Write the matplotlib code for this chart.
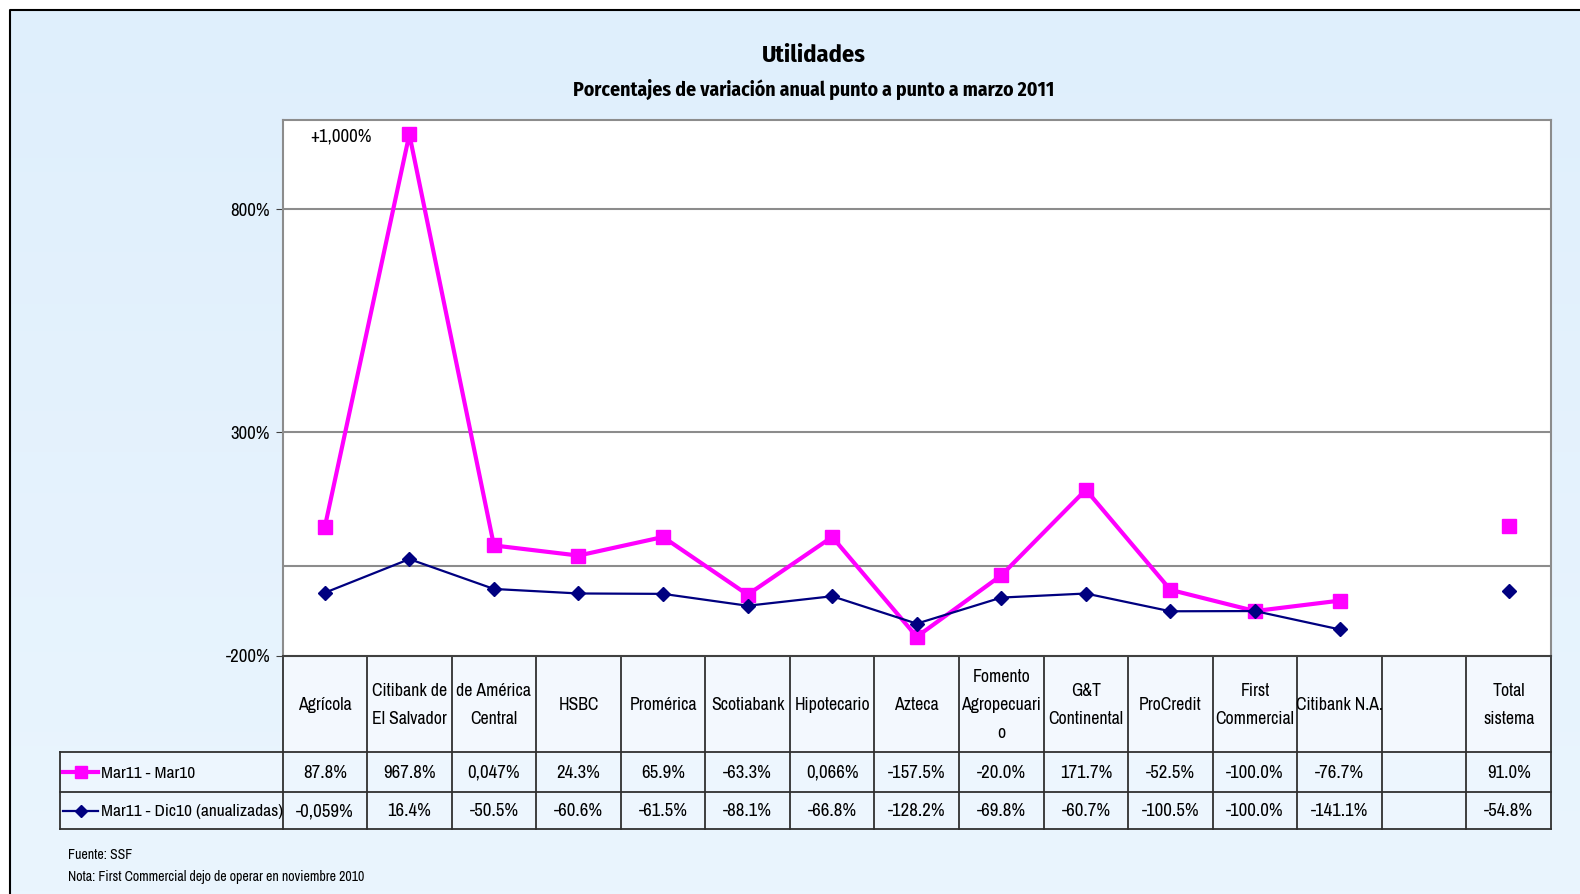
import numpy as np
import matplotlib.pyplot as plt
from matplotlib.colors import LinearSegmentedColormap
from matplotlib.lines import Line2D
from matplotlib.patches import Rectangle

plt.rcParams['font.family'] = ['Archivo Narrow', 'Roboto Condensed', 'DejaVu Sans']
BOLD_FAMILY = ['Fira Sans Condensed', 'Barlow Condensed', 'DejaVu Sans']

# data
bancos = ['Agrícola', 'Citibank de\nEl Salvador', 'de América\nCentral', 'HSBC', 'Promérica',
          'Scotiabank', 'Hipotecario', 'Azteca', 'Fomento\nAgropecuari\no', 'G&T\nContinental',
          'ProCredit', 'First\nCommercial', 'Citibank N.A.', '', 'Total\nsistema']
mar_mar = [87.8, 967.8, 47.0, 24.3, 65.9, -63.3, 66.0, -157.5, -20.0, 171.7,
           -52.5, -100.0, -76.7, np.nan, 91.0]
mar_dic = [-59.0, 16.4, -50.5, -60.6, -61.5, -88.1, -66.8, -128.2, -69.8, -60.7,
           -100.5, -100.0, -141.1, np.nan, -54.8]
txt_mar_mar = ['87.8%', '967.8%', '0,047%', '24.3%', '65.9%', '-63.3%', '0,066%', '-157.5%',
               '-20.0%', '171.7%', '-52.5%', '-100.0%', '-76.7%', '', '91.0%']
txt_mar_dic = ['-0,059%', '16.4%', '-50.5%', '-60.6%', '-61.5%', '-88.1%', '-66.8%', '-128.2%',
               '-69.8%', '-60.7%', '-100.5%', '-100.0%', '-141.1%', '', '-54.8%']
series = ['Mar11 - Mar10', 'Mar11 - Dic10 (anualizadas)']
yticks = [-200, 300, 800]

W, H = 1580, 894
MAG = '#FF00FF'
NAVY = '#000080'
FS = 12.8


def box(x0, y0, x1, y1):
    return [x0 / W, 1 - y1 / H, (x1 - x0) / W, (y1 - y0) / H]


fig = plt.figure(figsize=(W / 100, H / 100), dpi=100)
fig.patch.set_facecolor('white')

# background panel with soft gradient
bg = fig.add_axes([0, 0, 1, 1])
bg.set_xlim(0, W)
bg.set_ylim(H, 0)
bg.axis('off')
grad = np.linspace(0, 1, 256).reshape(-1, 1)
bg.imshow(grad, cmap=LinearSegmentedColormap.from_list('g', ['#DFEFFC', '#EAF5FE']),
          extent=(10, W, H, 10), aspect='auto')
bg.plot([10, 10, W], [H, 10, 10], color='black', lw=1.5)

# plot area
L, R, T, B = 282.5, 1551, 120, 655.7
ax = fig.add_axes(box(L, T, R, B))
n = len(bancos)
x = np.arange(n)
ax.set_xlim(-0.5, n - 0.5)
ax.set_ylim(-200, 1000)
for y in [0, 300, 800]:
    ax.axhline(y, color='#8C8C8C', lw=1.5, zorder=1)
ax.plot(x, mar_mar, color=MAG, lw=3, marker='s', ms=10, zorder=3)
ax.plot(x, mar_dic, color=NAVY, lw=1.6, marker='D', ms=7, zorder=4)
ax.set_xticks([])
ax.set_yticks(yticks)
ax.set_yticklabels([f'{v}%' for v in yticks], fontsize=13.5)
ax.tick_params(axis='y', length=5, color='#404040', pad=4)
for s in ax.spines.values():
    s.set_color('#8C8C8C')
    s.set_linewidth(1.5)
ax.spines['bottom'].set_color('#404040')
ax.text(0.19, 962, '+1,000%', fontsize=13.5, ha='center', va='center')

# data table below the plot
cw = (R - L) / n
r0, r1, r2, r3 = B, 752, 792, 829
bg.add_patch(Rectangle((L, r0), R - L, r1 - r0, facecolor='#F3F8FE', edgecolor='none', zorder=2))
bg.add_patch(Rectangle((60, r1), R - 60, r3 - r1, facecolor='#EDF6FE', edgecolor='none', zorder=2))
lc = '#303030'
bg.plot([L, L], [r0, r3], color=lc, lw=1.3, zorder=3)
bg.plot([60, 60], [r1, r3], color=lc, lw=1.3, zorder=3)
for i in range(1, n + 1):
    xx = L + i * cw
    bg.plot([xx, xx], [r0, r3], color=lc, lw=1.3, zorder=3)
for yy in [r1, r2, r3]:
    bg.plot([60, R], [yy, yy], color=lc, lw=1.3, zorder=3)

for i in range(n):
    cx = L + (i + 0.5) * cw
    bg.text(cx, (r0 + r1) / 2 + 1, bancos[i], fontsize=FS, ha='center', va='center',
            linespacing=1.9, zorder=4)
    bg.text(cx, (r1 + r2) / 2 + 1, txt_mar_mar[i], fontsize=13.5, ha='center', va='center', zorder=4)
    bg.text(cx, (r2 + r3) / 2 + 1, txt_mar_dic[i], fontsize=13.5, ha='center', va='center', zorder=4)

# legend keys in the table
for yy, col, mk, ms, lw, lab in [((r1 + r2) / 2, MAG, 's', 8, 3, series[0]),
                                  ((r2 + r3) / 2, NAVY, 'D', 6, 1.6, series[1])]:
    bg.add_line(Line2D([63, 98], [yy, yy], color=col, lw=lw, zorder=4))
    bg.add_line(Line2D([80.5], [yy], color=col, marker=mk, ms=ms, zorder=5))
    bg.text(101, yy + 1, lab, fontsize=12.5, ha='left', va='center', zorder=4)

# titles and notes
bg.text(814, 55, 'Utilidades', fontsize=17.5, fontweight='bold', family=BOLD_FAMILY,
        ha='center', va='center')
bg.text(814, 89, 'Porcentajes de variación anual punto a punto a marzo 2011', fontsize=14.2,
        fontweight='bold', family=BOLD_FAMILY, ha='center', va='center')
bg.text(68, 855, 'Fuente: SSF', fontsize=10, ha='left', va='center')
bg.text(68, 877, 'Nota: First Commercial dejo de operar en noviembre 2010', fontsize=10,
        ha='left', va='center')

fig.savefig('out.png', dpi=100)
